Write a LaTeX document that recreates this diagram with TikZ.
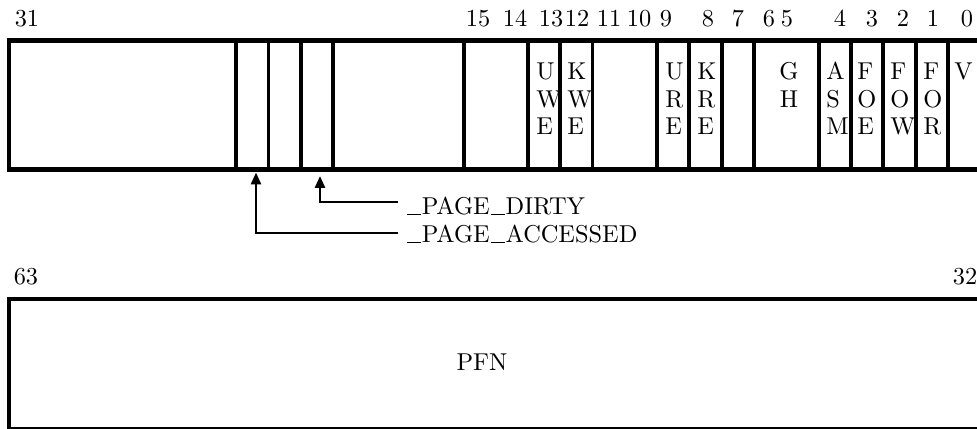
\documentclass[tikz,border=0pt]{standalone}
\usetikzlibrary{arrows.meta,calc}
\newcommand\usc{\kern0.06em\rule{0.55em}{0.6pt}\kern0.04em}
\begin{document}
\begin{tikzpicture}[x=0.41pt,y=-0.41pt,
  outline/.style={line width=1.7pt},
  divider/.style={line width=1.3pt},
  bitnum/.style={anchor=base,inner sep=0pt},
  flag/.style={anchor=base west,inner sep=0pt,align=left,font=\fontsize{10}{11.3}\selectfont},
  pointer/.style={line width=1.05pt,-{Triangle[length=4.9pt,width=4.1pt]}},
  tag/.style={anchor=base west,inner sep=0pt}]
\clip (0,0) rectangle (977,429);
% ---- low word (bits 31..0)
\draw[outline] (9,40.5) rectangle (983,169.5);
\foreach \xx in {236,268.5,301,333,464,528,560,592.5,657,689,722,754,819,851,883,916,948}
  \draw[divider] (\xx,40.5) -- (\xx,169.5);
% bit numbers
\foreach \xx/\lab in {27/31,478/15,515/14,551/13,577/12,609/11,639/10,666/9,708/8,738/7,769/6,787/5,840/4,872/3,903/2,933/1,967/0}
  \node[bitnum] (b\lab) at (\xx,27) {\lab};
% flags (anchored on the baseline of their last line)
\node[flag] (uwe) at (536,135) {U\\W\\E};
\node[flag] (kwe) at (567,135) {K\\W\\E};
\node[flag] (ure) at (665,135) {U\\R\\E};
\node[flag] (kre) at (697,135) {K\\R\\E};
\node[flag,anchor=base,align=center] (gh) at (789,107.5) {G\\H};
\node[flag] (asm) at (826,135) {A\\S\\M};
\node[flag] (foe) at (857,135) {F\\O\\E};
\node[flag] (fow) at (890,135) {F\\O\\W};
\node[flag] (for) at (923,135) {F\\O\\R};
\node[flag] (v) at (954,80) {V};
% pointers
\coordinate (accbit) at (256,172.5);
\coordinate (dirtybit) at (320,176);
\node[tag] (dirty) at (405.5,215) {\usc PAGE\usc DIRTY};
\node[tag] (acc) at (405.5,243) {\usc PAGE\usc ACCESSED};
\draw[pointer] ($(dirty.west)+(-8,-4.5)$) -| (dirtybit);
\draw[pointer] ($(acc.west)+(-8,-1.5)$) -| (accbit);
% ---- high word (bits 63..32)
\node[bitnum] (b63) at (26,285) {63};
\node[bitnum] (b32) at (965,285) {32};
\draw[outline] (9,299) rectangle (983,429);
\node[inner sep=0pt] (pfn) at (482,362) {PFN};
\end{tikzpicture}
\end{document}
